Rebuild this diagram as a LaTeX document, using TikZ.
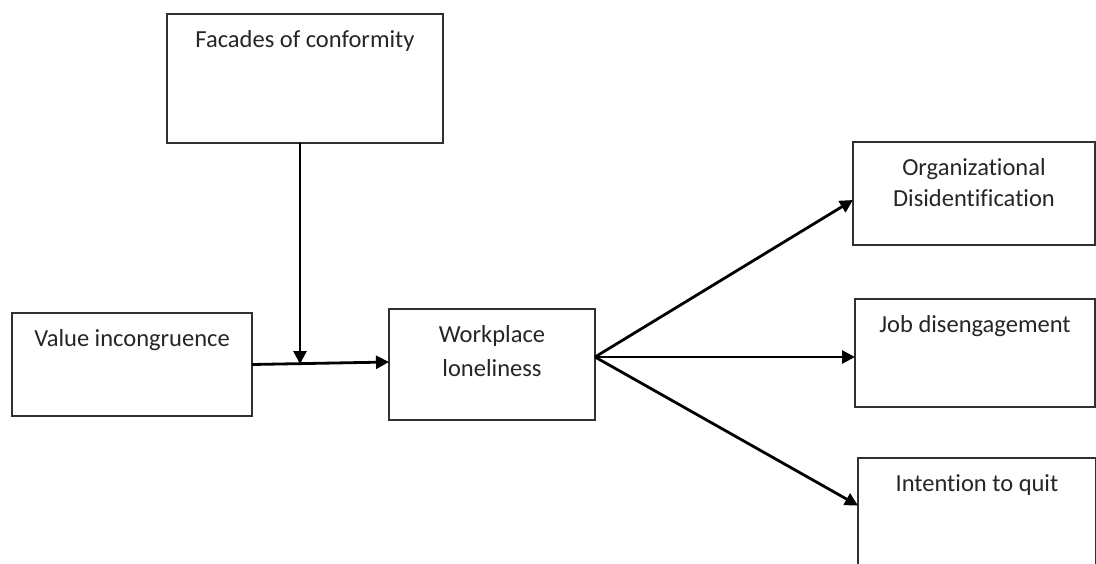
\documentclass[tikz,border=0pt]{standalone}
\usepackage{fontspec}
\setmainfont{Carlito}[Ligatures={NoCommon}]
\usetikzlibrary{arrows.meta}
\definecolor{boxc}{HTML}{303030}
\definecolor{txtc}{HTML}{262626}
\newcommand\bxtext[3]{\begin{minipage}[t][#2][t]{#1}\centering\rule{0pt}{33pt}#3\end{minipage}}
\tikzset{
  bx/.style={draw=boxc, line width=2.2pt, inner sep=0pt, outer sep=0pt, anchor=north west,
             text=txtc, font=\fontsize{24.5pt}{31pt}\selectfont},
  arr/.style={draw=black, line width=2.8pt, -{Triangle[length=13pt,width=13pt]}}
}
\begin{document}
\begin{tikzpicture}[x=1pt,y=-1pt]
\useasboundingbox (0,0) rectangle (1096,563);
\clip (0,0) rectangle (1096,563);
\fill[white] (0,0) rectangle (1096,563);

\node[bx] (fac) at (167,14) {\bxtext{276pt}{129pt}{Facades of conformity}};
\node[bx] (val) at (12,313) {\bxtext{240pt}{103pt}{Value incongruence}};
\node[bx] (wpl) at (389,309) {\bxtext{206pt}{111pt}{Workplace\\[3pt]loneliness}};
\node[bx] (org) at (853,142) {\bxtext{242pt}{103pt}{Organizational\\Disidentification}};
\node[bx] (job) at (855,299) {\bxtext{240pt}{108pt}{Job disengagement}};
\node[bx] (itq) at (858,458) {\bxtext{238pt}{125pt}{Intention to quit}};

% moderator onto the path
\coordinate (j) at (300,364);
\draw[arr] (j |- fac.south) -- (j);
\draw[arr] (val.east) -- ([yshift=2.5pt]wpl.west);

% outcomes
\coordinate (src) at ([yshift=7.5pt]wpl.east);
\draw[arr] (src) -- ([yshift=-6.5pt]org.west);
\draw[arr] (src) -- ([yshift=-4pt]job.west);
\draw[arr] (src) -- ([yshift=15pt]itq.west);
\end{tikzpicture}
\end{document}
